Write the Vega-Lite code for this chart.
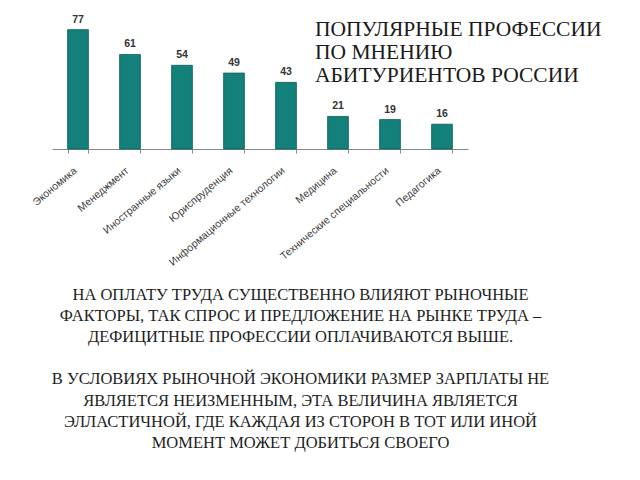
{
  "$schema": "https://vega.github.io/schema/vega-lite/v6.json",
  "autosize": {"type": "none"},
  "width": 416,
  "height": 124,
  "padding": {"left": 52, "top": 25, "right": 172, "bottom": 331},
  "background": "white",
  "config": {"view": {"stroke": null}},
  "title": {
    "text": ["ПОПУЛЯРНЫЕ ПРОФЕССИИ", "ПО МНЕНИЮ", "АБИТУРИЕНТОВ РОССИИ"],
    "anchor": "start",
    "frame": "group",
    "orient": "top",
    "align": "left",
    "baseline": "top",
    "dx": 263,
    "dy": 72,
    "offset": 0,
    "font": "Liberation Serif",
    "fontSize": 21.5,
    "fontWeight": "normal",
    "lineHeight": 23.3,
    "color": "#1a1a1a"
  },
  "data": {
    "values": [
      {"prof": "Экономика", "v": 77},
      {"prof": "Менеджмент", "v": 61},
      {"prof": "Иностранные языки", "v": 54},
      {"prof": "Юриспруденция", "v": 49},
      {"prof": "Информационные технологии", "v": 43},
      {"prof": "Медицина", "v": 21},
      {"prof": "Технические специальности", "v": 19},
      {"prof": "Педагогика", "v": 16}
    ]
  },
  "encoding": {
    "x": {
      "field": "prof",
      "type": "nominal",
      "sort": null,
      "scale": {"paddingInner": 0.6, "paddingOuter": 0.3},
      "axis": {
        "title": [
          "НА ОПЛАТУ ТРУДА СУЩЕСТВЕННО ВЛИЯЮТ РЫНОЧНЫЕ",
          "ФАКТОРЫ, ТАК СПРОС И ПРЕДЛОЖЕНИЕ НА РЫНКЕ ТРУДА –",
          "ДЕФИЦИТНЫЕ ПРОФЕССИИ ОПЛАЧИВАЮТСЯ ВЫШЕ.",
          "\u200b",
          "В УСЛОВИЯХ РЫНОЧНОЙ ЭКОНОМИКИ РАЗМЕР ЗАРПЛАТЫ НЕ",
          "ЯВЛЯЕТСЯ НЕИЗМЕННЫМ, ЭТА ВЕЛИЧИНА ЯВЛЯЕТСЯ",
          "ЭЛЛАСТИЧНОЙ, ГДЕ КАЖДАЯ ИЗ СТОРОН В ТОТ ИЛИ ИНОЙ",
          "МОМЕНТ МОЖЕТ ДОБИТЬСЯ СВОЕГО"
        ],
        "titleX": 248,
        "titleY": 137,
        "titleAlign": "center",
        "titleBaseline": "top",
        "titleFont": "Liberation Serif",
        "titleFontSize": 16.5,
        "titleFontWeight": "normal",
        "titleLineHeight": 21.2,
        "titleColor": "#1e1e1e",
        "labelAngle": -40,
        "labelAlign": "right",
        "labelBaseline": "middle",
        "labelFont": "Liberation Sans",
        "labelFontSize": 10.5,
        "labelColor": "#3a3a3a",
        "labelPadding": 16,
        "labelOffset": -3,
        "labelOverlap": false,
        "labelLimit": 0,
        "tickBand": "extent",
        "tickSize": 4,
        "tickColor": "#888",
        "domainColor": "#888",
        "domainWidth": 1
      }
    },
    "y": {
      "field": "v",
      "type": "quantitative",
      "scale": {"domain": [0, 80]},
      "axis": null
    }
  },
  "layer": [
    {
      "mark": {"type": "bar", "color": "#138079", "stroke": "#0c5f5b", "strokeWidth": 0.8}
    },
    {
      "mark": {"type": "text", "dy": -7, "baseline": "alphabetic", "font": "Liberation Sans", "fontSize": 10.5, "fontWeight": "bold", "color": "#333"},
      "encoding": {"text": {"field": "v", "type": "quantitative"}}
    }
  ]
}
